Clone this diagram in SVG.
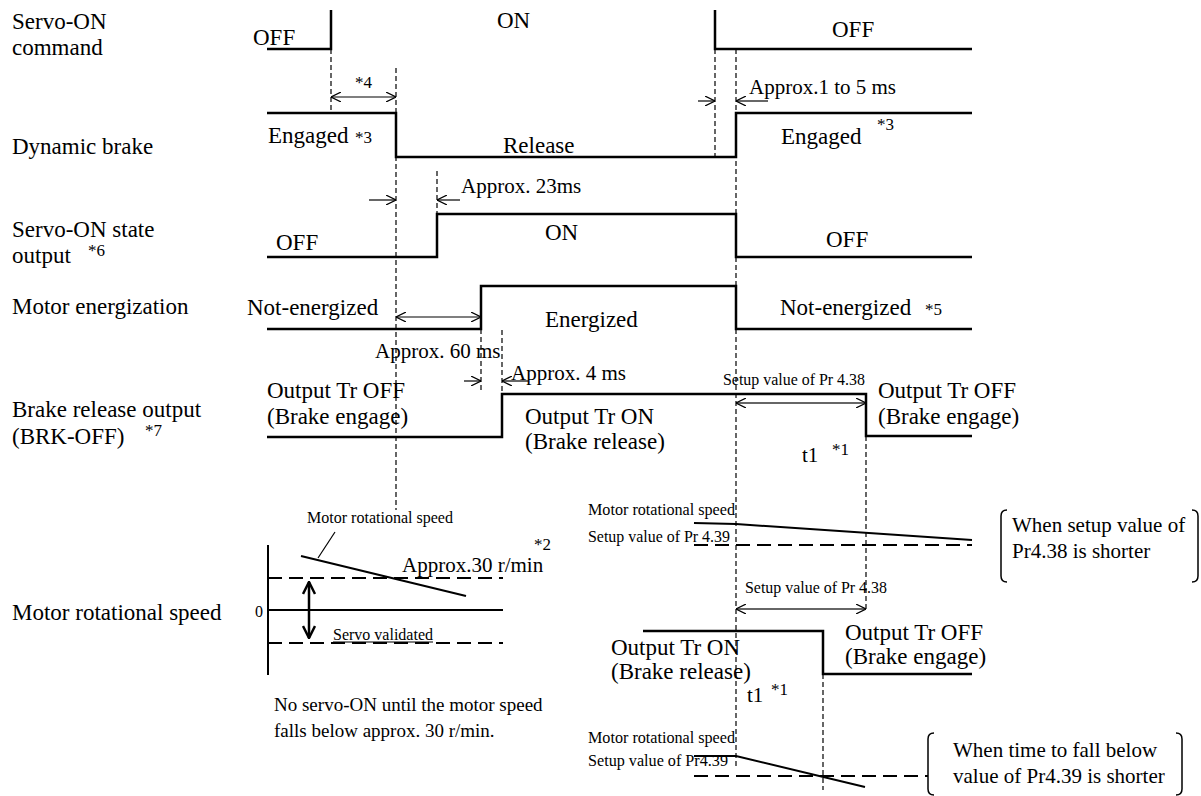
<svg xmlns="http://www.w3.org/2000/svg" width="1201" height="796" viewBox="0 0 1201 796">
<style>
text{font-family:"Liberation Serif","Times New Roman",serif;fill:#000}
.t{font-size:23px}
.m{font-size:21px}
.n{font-size:19px}
.s{font-size:17px}
.c{font-size:16px}
.sig{fill:none;stroke:#000;stroke-width:2.5}
.dv{fill:none;stroke:#000;stroke-width:1.2;stroke-dasharray:5 3}
.dh{fill:none;stroke:#000;stroke-width:2;stroke-dasharray:14 7}
.ln{fill:none;stroke:#000;stroke-width:2}
.ar{fill:none;stroke:#000;stroke-width:1.2}
.pr{fill:none;stroke:#333;stroke-width:1.6}
.br{fill:none;stroke:#000;stroke-width:1.5}
</style>
<defs>
<marker id="a" viewBox="0 0 10 10" refX="10" refY="5" markerWidth="10" markerHeight="10" markerUnits="userSpaceOnUse" orient="auto-start-reverse">
<path d="M0,0 L10,5 L0,10" fill="none" stroke="#000" stroke-width="1.2"/>
</marker>
<marker id="h" viewBox="0 0 14 14" refX="13" refY="7" markerWidth="14" markerHeight="14" markerUnits="userSpaceOnUse" orient="auto-start-reverse">
<path d="M1,1 L13,7 L1,13" fill="none" stroke="#000" stroke-width="2.5"/>
</marker>
</defs>

<g id="labels">
<text class="t" x="12" y="29">Servo-ON</text>
<text class="t" x="12" y="55">command</text>
<text class="t" x="12" y="154">Dynamic brake</text>
<text class="t" x="12" y="237">Servo-ON state</text>
<text class="t" x="12" y="263">output</text>
<text class="s" x="88" y="256">*6</text>
<text class="t" x="12" y="314">Motor energization</text>
<text class="t" x="12" y="417">Brake release output</text>
<text class="t" x="12" y="444">(BRK-OFF)</text>
<text class="s" x="145" y="436">*7</text>
<text class="t" x="12" y="620">Motor rotational speed</text>
</g>

<g id="servo-on-command">
<polyline class="sig" points="267,49 331,49 331,10"/>
<polyline class="sig" points="715,10 715,49 972,49"/>
<text class="t" x="253" y="45">OFF</text>
<text class="t" x="497" y="28">ON</text>
<text class="t" x="832" y="37">OFF</text>
</g>

<g id="dynamic-brake">
<polyline class="sig" points="267,113 396,113 396,157 736,157 736,113 972,113"/>
<text class="t" x="268" y="143">Engaged</text>
<text class="s" x="355" y="143">*3</text>
<text class="t" x="503" y="153">Release</text>
<text class="t" x="781" y="144">Engaged</text>
<text class="s" x="877" y="130">*3</text>
</g>

<g id="servo-on-state">
<polyline class="sig" points="267,257 437,257 437,214 736,214 736,257 972,257"/>
<text class="t" x="276" y="250">OFF</text>
<text class="t" x="545" y="240">ON</text>
<text class="t" x="826" y="247">OFF</text>
</g>

<g id="motor-energization">
<polyline class="sig" points="267,329 481,329 481,286 736,286 736,329 972,329"/>
<text class="t" x="247" y="315">Not-energized</text>
<text class="t" x="545" y="327">Energized</text>
<text class="t" x="780" y="315">Not-energized</text>
<text class="s" x="925" y="315">*5</text>
</g>

<g id="brake-release-output">
<polyline class="sig" points="267,437 502,437 502,394 866,394 866,436 972,436"/>
<text class="t" x="267" y="398">Output Tr OFF</text>
<text class="t" x="267" y="424">(Brake engage)</text>
<text class="t" x="525" y="424">Output Tr ON</text>
<text class="t" x="525" y="449">(Brake release)</text>
<text class="t" x="878" y="398">Output Tr OFF</text>
<text class="t" x="878" y="424">(Brake engage)</text>
<text class="m" x="802" y="462">t1</text>
<text class="s" x="832" y="455">*1</text>
</g>

<g id="speed-left">
<line class="ln" x1="268" y1="545" x2="268" y2="675"/>
<line class="ln" x1="268" y1="610" x2="503" y2="610"/>
<line class="dh" x1="268" y1="578" x2="503" y2="578"/>
<line class="dh" x1="268" y1="643" x2="503" y2="643"/>
<line class="ln" x1="301" y1="556" x2="466" y2="596"/>
<line class="ar" x1="318" y1="558" x2="335" y2="532"/>
<line x1="309" y1="582" x2="309" y2="638" stroke="#000" stroke-width="2.5" marker-start="url(#h)" marker-end="url(#h)"/>
<line x1="333" y1="642" x2="433" y2="642" stroke="#000" stroke-width="1.2"/>
<text class="c" x="307" y="523" textLength="146" lengthAdjust="spacingAndGlyphs">Motor rotational speed</text>
<text class="m" x="402" y="572">Approx.30 r/min</text>
<text class="s" x="534" y="550">*2</text>
<text class="c" x="255" y="617">0</text>
<text class="c" x="333" y="640" textLength="100" lengthAdjust="spacingAndGlyphs">Servo validated</text>
<text class="n" x="274" y="711">No servo-ON until the motor speed</text>
<text class="n" x="274" y="737">falls below approx. 30 r/min.</text>
</g>

<g id="speed-case1">
<polyline class="ln" points="694,523 736,524 972,540"/>
<line class="dh" x1="694" y1="545" x2="972" y2="545"/>
<text class="c" x="588" y="515" textLength="147" lengthAdjust="spacingAndGlyphs">Motor rotational speed</text>
<text class="c" x="588" y="542" textLength="142" lengthAdjust="spacingAndGlyphs">Setup value of Pr 4.39</text>
<path class="br" d="M1007,510 Q1001,510 1001,516 L1001,576 Q1001,582 1007,582"/>
<path class="br" d="M1192,510 Q1198,510 1198,516 L1198,576 Q1198,582 1192,582"/>
<text class="m" x="1012" y="532">When setup value of</text>
<text class="m" x="1012" y="558">Pr4.38 is shorter</text>
</g>

<g id="brake-case2">
<polyline class="sig" points="643,631 823,631 823,674 972,674"/>
<text class="c" x="745" y="593" textLength="142" lengthAdjust="spacingAndGlyphs">Setup value of Pr 4.38</text>
<text class="t" x="611" y="655">Output Tr ON</text>
<text class="t" x="611" y="679">(Brake release)</text>
<text class="t" x="845" y="640">Output Tr OFF</text>
<text class="t" x="845" y="664">(Brake engage)</text>
<text class="m" x="747" y="702">t1</text>
<text class="s" x="771" y="695">*1</text>
</g>

<g id="speed-case2">
<polyline class="ln" points="694,756 736,756 865,787"/>
<line class="dh" x1="694" y1="776" x2="928" y2="776"/>
<text class="c" x="588" y="743" textLength="147" lengthAdjust="spacingAndGlyphs">Motor rotational speed</text>
<text class="c" x="588" y="766" textLength="140" lengthAdjust="spacingAndGlyphs">Setup value of Pr4.39</text>
<path class="br" d="M934,733 Q928,733 928,739 L928,789 Q928,795 934,795"/>
<path class="br" d="M1176,733 Q1182,733 1182,739 L1182,789 Q1182,795 1176,795"/>
<text class="m" x="953" y="757">When time to fall below</text>
<text class="m" x="953" y="783">value of Pr4.39 is shorter</text>
</g>

<g id="connectors">
<line class="dv" x1="331" y1="49" x2="331" y2="110"/>
<line class="dv" x1="396" y1="68" x2="396" y2="510"/>
<line class="dv" x1="715" y1="49" x2="715" y2="157"/>
<line class="dv" x1="736" y1="49" x2="736" y2="767"/>
<line class="dv" x1="437" y1="171" x2="437" y2="214"/>
<line class="dv" x1="481" y1="329" x2="481" y2="390"/>
<line class="dv" x1="502" y1="330" x2="502" y2="394"/>
<line class="dv" x1="866" y1="436" x2="866" y2="612"/>
<line class="dv" x1="823" y1="674" x2="823" y2="790"/>

<line class="ar" x1="331" y1="97" x2="396" y2="97" marker-start="url(#a)" marker-end="url(#a)"/>
<text class="s" x="355" y="88">*4</text>

<line class="ar" x1="698" y1="101" x2="715" y2="101" marker-end="url(#a)"/>
<line class="ar" x1="768" y1="101" x2="736" y2="101" marker-end="url(#a)"/>
<text class="m" x="749" y="94">Approx.1 to 5 ms</text>

<line class="ar" x1="369" y1="200" x2="396" y2="200" marker-end="url(#a)"/>
<line class="ar" x1="460" y1="200" x2="437" y2="200" marker-end="url(#a)"/>
<text class="m" x="461" y="193">Approx. 23ms</text>

<line class="ar" x1="396" y1="317" x2="481" y2="317" marker-start="url(#a)" marker-end="url(#a)"/>
<text class="m" x="375" y="358">Approx. 60 ms</text>

<line class="ar" x1="464" y1="381" x2="481" y2="381" marker-end="url(#a)"/>
<line class="ar" x1="528" y1="381" x2="502" y2="381" marker-end="url(#a)"/>
<text class="m" x="511" y="380">Approx. 4 ms</text>

<line class="pr" x1="736" y1="403" x2="866" y2="403" marker-start="url(#a)" marker-end="url(#a)"/>
<text class="c" x="723" y="385" textLength="142" lengthAdjust="spacingAndGlyphs">Setup value of Pr 4.38</text>

<line class="pr" x1="736" y1="609" x2="866" y2="609" marker-start="url(#a)" marker-end="url(#a)"/>
</g>
</svg>
